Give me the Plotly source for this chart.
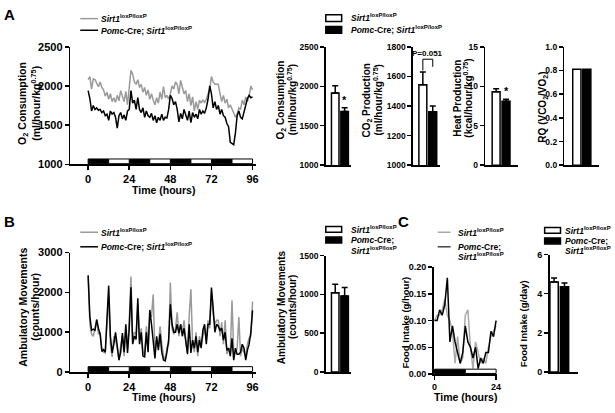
import plotly.graph_objects as go

W, H = 615, 413
FONT = "Arial, Liberation Sans, sans-serif"

# ---------------- data ----------------
hours96 = list(range(97))
o2_control = [2080, 2120, 1960, 2090, 2080, 2040, 1990, 2050, 1980, 1950, 1870, 1920, 1830, 1900, 1800, 1850,
              1790, 1880, 1810, 1940, 1850, 1800, 1930, 1760, 1980, 2200, 2150, 2050, 2020, 2080, 1980, 2020,
              1920, 1980, 1880, 1950, 1830, 1900, 1820, 1760, 1850, 1780, 1920, 1830, 1990, 1850, 1880, 1830,
              1900, 2000, 1960, 2050, 2020, 1900, 2070, 2000, 1900, 1940, 1800, 1900, 1750, 1860, 1680, 1800,
              1700, 1820, 1780, 1820, 1790, 1830, 1900, 1960, 2120, 2050, 2020, 2020, 2020, 1900, 1800, 1880,
              1780, 1830, 1720, 1760, 1700, 1640, 1600, 1640, 1720, 1700, 1820, 1760, 1860, 1800, 1870, 2000, 1950]
o2_pomc = [1940, 1840, 1680, 1750, 1700, 1720, 1690, 1700, 1660, 1680, 1620, 1640, 1560, 1680, 1640, 1660,
           1600, 1460, 1620, 1660, 1580, 1630, 1560, 1680, 1700, 1940, 1780, 1820, 1700, 1850, 1700, 1660,
           1720, 1600, 1680, 1620, 1600, 1650, 1560, 1620, 1530, 1600, 1560, 1640, 1560, 1600, 1590, 1700,
           1880, 1840, 1760, 1800, 1700, 1540, 1650, 1580, 1700, 1640, 1560, 1680, 1530, 1660, 1600, 1640,
           1580, 1700, 1640, 1680, 1650, 1720, 1830, 2000, 1900, 1720, 1800, 1700, 1750, 1640, 1700, 1620,
           1600, 1520, 1480, 1280, 1260, 1250, 1400, 1620, 1680, 1600, 1580, 1680, 1750, 1840, 1880, 1850, 1860]

amb_control = [2400, 1200, 950, 900, 1100, 1300, 950, 1000, 600, 500, 480, 1100, 1900, 700, 380, 900,
               800, 600, 300, 650, 900, 400, 1100, 600, 1300, 2400, 800, 1000, 950, 1700, 800, 1100,
               500, 450, 1150, 700, 1400, 1400, 1950, 500, 800, 650, 1150, 700, 400, 300, 600, 700,
               2250, 1100, 950, 1100, 1500, 900, 1200, 1000, 1300, 800, 500, 1400, 2080, 700, 500, 1000,
               400, 900, 700, 900, 1100, 800, 1300, 1100, 2000, 1450, 1200, 1300, 1300, 900, 1250, 700,
               1300, 450, 600, 500, 1800, 500, 450, 600, 1380, 400, 600, 500, 400, 700, 850, 900, 1770]
amb_pomc = [2430, 1400, 1050, 1080, 1050, 1320, 1100, 950, 520, 560, 500, 1300, 2170, 900, 480, 700,
            1000, 650, 300, 500, 980, 500, 1200, 480, 1100, 2130, 700, 900, 820, 1850, 700, 1000,
            400, 380, 1000, 500, 1560, 1200, 700, 340, 900, 550, 960, 500, 300, 280, 500, 800,
            1700, 1200, 1000, 1000, 1200, 980, 1200, 900, 1100, 700, 450, 1200, 480, 800, 600, 900,
            500, 800, 600, 1050, 1200, 700, 1200, 1200, 2120, 1600, 1000, 1200, 1150, 1050, 1100, 800,
            1000, 550, 600, 400, 850, 300, 600, 450, 450, 500, 700, 600, 300, 550, 700, 1000, 1550]

hours24 = list(range(25))
food_control = [0.10, 0.11, 0.11, 0.12, 0.14, 0.11, 0.10, 0.08, 0.02, 0.07, 0.02, 0.03, 0.11, 0.12, 0.05,
                0.01, 0.06, 0.04, 0.02, 0.03, 0.02, 0.05, 0.07, 0.08, 0.09]
food_pomc = [0.10, 0.10, 0.12, 0.11, 0.13, 0.18, 0.06, 0.09, 0.06, 0.04, 0.02, 0.04, 0.09, 0.06, 0.05,
             0.03, 0.05, 0.01, 0.03, 0.02, 0.04, 0.04, 0.08, 0.07, 0.10]

o2_bar_mean = [1915, 1682]
o2_bar_err = [93, 45]
co2_bar_mean = [1544, 1362]
co2_bar_err = [85, 38]
heat_bar_mean = [9.3, 8.1]
heat_bar_err = [0.4, 0.25]
rq_bar_mean = [0.81, 0.81]
rq_bar_err = [0.0, 0.0]
amb_bar_mean = [1020, 980]
amb_bar_err = [110, 110]
food_bar_mean = [4.6, 4.35]
food_bar_err = [0.2, 0.2]

dark_phases_96 = [(0, 12), (24, 36), (48, 60), (72, 84)]
light_phases_96 = [(12, 24), (36, 48), (60, 72), (84, 96)]
dark_phases_24 = [(0, 12)]
light_phases_24 = [(12, 24)]

GRAY = "#9a9a9a"

# -------------- helpers ---------------
def px(x):
    return x / W

def py(y):
    return 1 - y / H

def sfx(idx):
    return "" if idx == 1 else str(idx)

fig = go.Figure()
shapes = []
annotations = []


def axis_style(size):
    return dict(showgrid=False, zeroline=False, showline=True, linecolor="black", linewidth=1.6,
                ticks="outside", ticklen=4, tickwidth=1.5, tickcolor="black",
                tickfont=dict(family=FONT, size=size, color="black", weight="bold"))


def add_axes(idx, xdom, ydom, xrange, yrange, ytickvals, yticktext=None, xtickvals=None,
             show_xlabels=False, fsize=8.5):
    s = sfx(idx)
    xa = dict(axis_style(fsize), domain=[px(xdom[0]), px(xdom[1])], range=xrange, anchor="y" + s)
    ya = dict(axis_style(fsize), domain=[py(ydom[1]), py(ydom[0])], range=yrange, anchor="x" + s,
              tickvals=ytickvals)
    if yticktext is not None:
        ya["ticktext"] = yticktext
    if xtickvals is not None and show_xlabels:
        xa["tickvals"] = xtickvals
    else:
        xa["showticklabels"] = False
        xa["ticks"] = ""
        xa["tickvals"] = []
    fig.update_layout(**{"xaxis" + s: xa, "yaxis" + s: ya})


def add_ld_bar(idx, dark, light):
    s = sfx(idx)
    for a, b in dark:
        shapes.append(dict(type="rect", xref="x" + s, yref="y%s domain" % s, x0=a, x1=b, y0=0.005, y1=0.045,
                           fillcolor="black", line=dict(color="black", width=1)))
    for a, b in light:
        shapes.append(dict(type="rect", xref="x" + s, yref="y%s domain" % s, x0=a, x1=b, y0=0.005, y1=0.045,
                           fillcolor="white", line=dict(color="black", width=1)))


def add_bars(idx, means, errs, width=0.8, xs=(1, 2)):
    s = sfx(idx)
    for i, (m, e, fill) in enumerate(zip(means, errs, ["white", "black"])):
        fig.add_trace(go.Bar(x=[xs[i]], y=[m], width=width, xaxis="x" + s, yaxis="y" + s,
                             marker=dict(color=fill, line=dict(color="black", width=1.5)),
                             error_y=dict(type="data", symmetric=False, array=[e], arrayminus=[0],
                                          thickness=1.5, width=3, color="black", visible=e > 0),
                             showlegend=False))


def add_line(idx, xs, ys, color):
    s = sfx(idx)
    fig.add_trace(go.Scatter(x=xs, y=ys, xaxis="x" + s, yaxis="y" + s, mode="lines",
                             line=dict(color=color, width=1.5), showlegend=False))


def ytitle(text, x, y, size=10):
    annotations.append(dict(text=text, x=px(x), y=py(y), xref="paper", yref="paper", textangle=-90,
                            showarrow=False, xanchor="center", yanchor="middle", borderpad=0,
                            font=dict(family=FONT, size=size, color="black", weight="bold")))


def text(t, x, y, size=10, xanchor="left", weight="bold"):
    annotations.append(dict(text=t, x=px(x), y=py(y), xref="paper", yref="paper", showarrow=False,
                            xanchor=xanchor, yanchor="middle",
                            font=dict(family=FONT, size=size, color="black", weight=weight)))


SIRT = "<i>Sirt1</i><sup>loxP/loxP</sup>"
POMC = "<i>Pomc</i>-Cre; <i>Sirt1</i><sup>loxP/loxP</sup>"
LEG = 8.5
UNIT = "(ml/hour/kg<sup>0.75</sup>)"

# ---------- Panel A: O2 time series ----------
add_axes(1, (69, 257), (42, 163), [-10.4, 98.3], [1000, 2500], [1000, 1500, 2000, 2500],
         xtickvals=[0, 24, 48, 72, 96], show_xlabels=True, fsize=11)
add_line(1, hours96, o2_control, GRAY)
add_line(1, hours96, o2_pomc, "black")
add_ld_bar(1, dark_phases_96, light_phases_96)
ytitle("O<sub>2</sub> Consumption", 21, 100, size=10.5)
ytitle(UNIT, 33, 100, size=10.5)
text("Time (hours)", 163, 189, size=10.5, xanchor="center")

# ---------- Panel A: bars ----------
add_axes(2, (327, 352), (42, 164), [0, 2.63], [1000, 2500], [1000, 1500, 2000, 2500])
add_bars(2, o2_bar_mean, o2_bar_err)
ytitle("O<sub>2</sub> Consumption", 282, 97)
ytitle(UNIT, 293, 97)

add_axes(3, (415, 442), (42, 164), [0, 2.7], [1000, 1800], [1000, 1200, 1400, 1600, 1800])
add_bars(3, co2_bar_mean, co2_bar_err)
ytitle("CO<sub>2</sub> Production", 369, 97)
ytitle(UNIT, 380, 97)

add_axes(4, (488, 521), (42, 164), [-0.1, 3.2], [0, 15], [0, 5, 10, 15])
add_bars(4, heat_bar_mean, heat_bar_err)
ytitle("Heat Production", 460, 95)
ytitle("(kcal/hour/kg<sup>0.75</sup>)", 471, 95)

add_axes(5, (568, 603), (42, 164), [-0.25, 3.25], [0, 1.0], [0, 0.2, 0.4, 0.6, 0.8, 1.0],
         yticktext=["0.0", "0.2", "0.4", "0.6", "0.8", "1.0"])
add_bars(5, rq_bar_mean, rq_bar_err, width=0.83)
ytitle("RQ (VCO<sub>2</sub>/VO<sub>2</sub>)", 546, 104)

# stars
annotations.append(dict(text="*", x=2, y=o2_bar_mean[1] + o2_bar_err[1], xref="x2", yref="y2", showarrow=False,
                        yanchor="bottom", font=dict(family=FONT, size=11, color="black", weight="bold")))
annotations.append(dict(text="*", x=2, y=heat_bar_mean[1] + heat_bar_err[1], xref="x4", yref="y4", showarrow=False,
                        yanchor="bottom", font=dict(family=FONT, size=11, color="black", weight="bold")))
# P bracket
shapes.append(dict(type="path", xref="x3", yref="y3", path="M 1,1640 L 1,1716 L 2,1716 L 2,1665",
                   line=dict(color="black", width=1)))
annotations.append(dict(text="P=0.051", x=1.5, y=1716, xref="x3", yref="y3", showarrow=False, yanchor="bottom",
                        yshift=-1, font=dict(family=FONT, size=8, color="black", weight="bold")))

# legends A
shapes.append(dict(type="line", xref="paper", yref="paper", x0=px(79), x1=px(97), y0=py(13), y1=py(13),
                   line=dict(color=GRAY, width=1.5)))
shapes.append(dict(type="line", xref="paper", yref="paper", x0=px(79), x1=px(97), y0=py(25), y1=py(25),
                   line=dict(color="black", width=1.5)))
text(SIRT, 98, 13, size=LEG)
text(POMC, 98, 25, size=LEG)
shapes.append(dict(type="rect", xref="paper", yref="paper", x0=px(327), x1=px(343), y0=py(16), y1=py(9),
                   fillcolor="white", line=dict(color="black", width=1.5)))
shapes.append(dict(type="rect", xref="paper", yref="paper", x0=px(327), x1=px(343), y0=py(28), y1=py(21),
                   fillcolor="black", line=dict(color="black", width=1.5)))
text(SIRT, 350, 12, size=LEG)
text(POMC, 350, 24, size=LEG)

# ---------- Panel B ----------
add_axes(6, (69, 257), (254, 377), [-10.4, 98.3], [0, 3000], [0, 1000, 2000, 3000],
         xtickvals=[0, 24, 48, 72, 96], show_xlabels=True, fsize=11)
add_line(6, hours96, amb_control, GRAY)
add_line(6, hours96, amb_pomc, "black")
add_ld_bar(6, dark_phases_96, light_phases_96)
ytitle("Ambulatory Movements", 21, 310, size=10.5)
ytitle("(counts/hour)", 33, 310, size=10.5)
text("Time (hours)", 163, 403, size=10.5, xanchor="center")

add_axes(7, (327, 352), (257, 377), [0, 2.63], [0, 1500], [0, 500, 1000, 1500])
add_bars(7, amb_bar_mean, amb_bar_err)
ytitle("Ambulatory Movements", 283, 310)
ytitle("(counts/hour)", 294, 310)

shapes.append(dict(type="line", xref="paper", yref="paper", x0=px(79), x1=px(97), y0=py(233), y1=py(233),
                   line=dict(color=GRAY, width=1.5)))
shapes.append(dict(type="line", xref="paper", yref="paper", x0=px(79), x1=px(97), y0=py(248), y1=py(248),
                   line=dict(color="black", width=1.5)))
text(SIRT, 98, 233, size=LEG)
text(POMC, 98, 248, size=LEG)
shapes.append(dict(type="rect", xref="paper", yref="paper", x0=px(327), x1=px(343), y0=py(233), y1=py(227),
                   fillcolor="white", line=dict(color="black", width=1.5)))
shapes.append(dict(type="rect", xref="paper", yref="paper", x0=px(327), x1=px(343), y0=py(244), y1=py(238),
                   fillcolor="black", line=dict(color="black", width=1.5)))
text(SIRT, 350, 230, size=LEG)
text("<i>Pomc</i>-Cre;", 350, 241, size=LEG)
text(SIRT, 350, 252, size=LEG)

# ---------- Panel C ----------
add_axes(8, (436, 500), (269, 379), [-0.3, 24.4], [0, 0.2], [0, 0.05, 0.10, 0.15, 0.20],
         yticktext=["0.00", "0.05", "0.10", "0.15", "0.20"], xtickvals=[0, 24], show_xlabels=True, fsize=9)
add_line(8, hours24, food_control, "#aaaaaa")
add_line(8, hours24, food_pomc, "black")
add_ld_bar(8, dark_phases_24, light_phases_24)
ytitle("Food Intake (g/hour)", 407, 326, size=9.5)
text("Time (hours)", 468, 403, size=10.5, xanchor="center")

add_axes(9, (553, 582), (256, 377), [0.57, 3.33], [0, 6], [0, 2, 4, 6], fsize=9)
add_bars(9, food_bar_mean, food_bar_err)
ytitle("Food Intake (g/day)", 527, 327, size=9.5)

shapes.append(dict(type="line", xref="paper", yref="paper", x0=px(440), x1=px(453), y0=py(233), y1=py(233),
                   line=dict(color="#aaaaaa", width=1.5)))
shapes.append(dict(type="line", xref="paper", yref="paper", x0=px(440), x1=px(453), y0=py(248), y1=py(248),
                   line=dict(color="#444444", width=1.5)))
text(SIRT, 458, 233, size=LEG)
text("<i>Pomc</i>-Cre;", 458, 248, size=LEG)
text(SIRT, 458, 258, size=LEG)
shapes.append(dict(type="rect", xref="paper", yref="paper", x0=px(548), x1=px(564), y0=py(234), y1=py(228),
                   fillcolor="white", line=dict(color="black", width=1.5)))
shapes.append(dict(type="rect", xref="paper", yref="paper", x0=px(548), x1=px(564), y0=py(245), y1=py(239),
                   fillcolor="black", line=dict(color="black", width=1.5)))
text(SIRT, 567, 231, size=LEG)
text("<i>Pomc</i>-Cre;", 567, 242, size=LEG)
text(SIRT, 567, 252, size=LEG)

# panel letters
text("A", 8, 9, size=15, xanchor="center")
text("B", 8, 222, size=15, xanchor="center")
text("C", 405, 222, size=15, xanchor="center")

fig.update_layout(width=W, height=H, margin=dict(l=0, r=0, t=0, b=0), plot_bgcolor="white",
                  paper_bgcolor="white", shapes=shapes, annotations=annotations, bargap=0,
                  font=dict(family=FONT, color="black"), showlegend=False)

# remove the browser's default 8px page margin so the figure sits at the window's corner
fig.write_html("out.html", config={"displayModeBar": False, "staticPlot": True},
               post_script="document.body.style.margin='0';document.body.style.overflow='hidden';")
